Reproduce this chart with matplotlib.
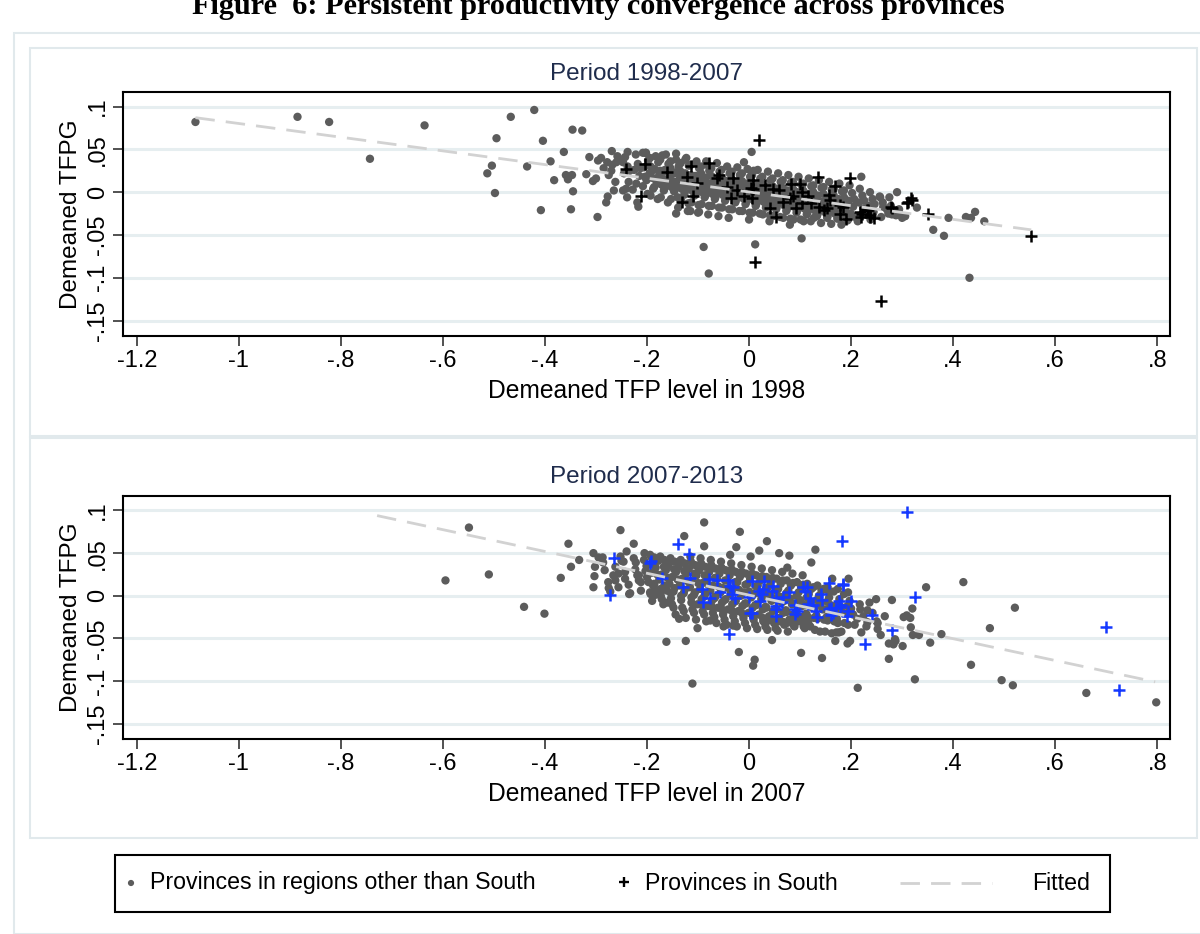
import matplotlib.pyplot as plt
from matplotlib.patches import Rectangle

# ---------------- data ----------------
# Panel 1: period 1998-2007
top_other_x = [
    -1.085, -0.885, -0.823, -0.743, -0.636, -0.513, -0.504, -0.495, -0.498, -0.467,
    -0.435, -0.421, -0.404, -0.408, -0.389, -0.382, -0.363, -0.359, -0.355, -0.347,
    -0.345, -0.349, -0.346, -0.327, -0.313, -0.319, -0.306, -0.300, -0.296, -0.297,
    -0.278, -0.269, -0.260, -0.250, -0.238, -0.280, -0.277, -0.247, -0.217, -0.208,
    -0.202, -0.170, -0.143, -0.143, -0.125, -0.115, -0.104, -0.098, -0.084, -0.089,
    -0.079, -0.010, 0.005, 0.009, 0.012, 0.103, 0.220, 0.290, 0.361, 0.382,
    0.391, 0.425, 0.435, 0.443, 0.461, 0.432, 0.329, 0.305, 0.280, 0.293,
    0.256, 0.259, 0.238, 0.257, 0.288, 0.306, 0.273, 0.263,
    -0.290, -0.285, -0.275, -0.268, -0.262, -0.258, -0.265, -0.270,
    -0.243, -0.238, -0.245, -0.236, -0.241, -0.234, -0.247, -0.239,
    -0.222, -0.218, -0.225, -0.215, -0.221, -0.228, -0.213, -0.219,
    -0.203, -0.198, -0.206, -0.195, -0.201, -0.208, -0.193, -0.199, -0.204,
    -0.183, -0.178, -0.185, -0.176, -0.181, -0.188, -0.174, -0.179, -0.186, -0.172,
    -0.163, -0.158, -0.165, -0.155, -0.161, -0.167, -0.154, -0.159, -0.166, -0.152,
    -0.143, -0.138, -0.145, -0.136, -0.141, -0.147, -0.134, -0.139, -0.146, -0.132, -0.140,
    -0.123, -0.118, -0.125, -0.116, -0.121, -0.127, -0.114, -0.119, -0.126, -0.112, -0.120,
    -0.103, -0.098, -0.105, -0.096, -0.101, -0.107, -0.094, -0.099, -0.106, -0.092, -0.100,
    -0.083, -0.078, -0.085, -0.076, -0.081, -0.087, -0.074, -0.079, -0.086, -0.072, -0.080,
    -0.063, -0.058, -0.065, -0.056, -0.061, -0.067, -0.054, -0.059, -0.066, -0.052, -0.060,
    -0.043, -0.038, -0.045, -0.036, -0.041, -0.047, -0.034, -0.039, -0.046, -0.032, -0.040,
    -0.023, -0.018, -0.025, -0.016, -0.021, -0.027, -0.014, -0.019, -0.026, -0.012,
    -0.003, 0.002, -0.005, 0.004, -0.001, -0.007, 0.006, 0.001, -0.006, 0.008, 0.000,
    0.017, 0.022, 0.015, 0.024, 0.019, 0.013, 0.026, 0.021, 0.014, 0.028,
    0.037, 0.042, 0.035, 0.044, 0.039, 0.033, 0.046, 0.041, 0.034, 0.048, 0.040,
    0.057, 0.062, 0.055, 0.064, 0.059, 0.053, 0.066, 0.061, 0.054, 0.068,
    0.077, 0.082, 0.075, 0.084, 0.079, 0.073, 0.086, 0.081, 0.074, 0.088, 0.080,
    0.097, 0.102, 0.095, 0.104, 0.099, 0.093, 0.106, 0.101, 0.094, 0.108,
    0.117, 0.122, 0.115, 0.124, 0.119, 0.113, 0.126, 0.121, 0.114, 0.128,
    0.137, 0.142, 0.135, 0.144, 0.139, 0.133, 0.146, 0.141, 0.134, 0.148,
    0.157, 0.162, 0.155, 0.164, 0.159, 0.153, 0.166, 0.161, 0.154, 0.168,
    0.177, 0.182, 0.175, 0.184, 0.179, 0.173, 0.186, 0.181, 0.188,
    0.197, 0.202, 0.195, 0.204, 0.199, 0.193, 0.206, 0.208,
    0.217, 0.222, 0.215, 0.224, 0.219, 0.226, 0.213,
    0.237, 0.242, 0.235, 0.244, 0.239, 0.246,
    0.262, 0.270, 0.278, 0.285, 0.294, 0.300, 0.275,
]
top_other_y = [
    0.082, 0.088, 0.082, 0.039, 0.078, 0.022, 0.031, 0.063, -0.001, 0.088,
    0.030, 0.096, 0.060, -0.021, 0.036, 0.014, 0.047, 0.020, 0.015, 0.020,
    0.001, -0.020, 0.073, 0.072, 0.041, 0.021, 0.013, 0.016, 0.037, -0.029,
    0.035, 0.048, 0.035, 0.038, 0.047, -0.012, -0.005, 0.002, -0.017, 0.046,
    0.046, 0.043, 0.045, -0.025, 0.038, -0.022, 0.034, -0.023, 0.036, -0.064,
    -0.095, 0.035, 0.047, 0.025, -0.061, -0.054, 0.018, 0.000, -0.044, -0.051,
    -0.030, -0.029, -0.030, -0.023, -0.034, -0.100, -0.018, -0.028, -0.026, -0.024,
    -0.005, -0.029, -0.032, -0.006, -0.027, -0.028, -0.025, -0.017,
    0.040, 0.028, 0.020, 0.032, 0.012, 0.042, 0.002, 0.025,
    0.041, 0.030, 0.022, 0.012, 0.004, 0.025, 0.035, -0.006,
    0.044, 0.033, 0.026, 0.019, 0.010, 0.003, 0.028, -0.012,
    0.046, 0.037, 0.029, 0.022, 0.014, 0.007, 0.030, -0.002, 0.018,
    0.042, 0.035, 0.027, 0.020, 0.012, 0.004, 0.025, -0.008, 0.016, 0.009,
    0.044, 0.033, 0.026, 0.019, 0.011, 0.002, 0.028, -0.012, 0.015, 0.006,
    0.038, 0.030, 0.023, 0.016, 0.008, 0.001, 0.024, -0.018, 0.012, 0.004, -0.006,
    0.040, 0.031, 0.022, 0.015, 0.007, -0.003, 0.020, -0.013, 0.012, 0.002, -0.022,
    0.036, 0.028, 0.019, 0.013, 0.005, -0.004, 0.022, -0.015, 0.010, 0.000, -0.024,
    0.032, 0.025, 0.017, 0.010, 0.002, -0.006, 0.019, -0.016, 0.008, -0.002, -0.026,
    0.034, 0.024, 0.015, 0.009, 0.001, -0.008, 0.017, -0.018, 0.006, -0.003, -0.028,
    0.030, 0.022, 0.013, 0.007, -0.001, -0.010, 0.015, -0.020, 0.004, -0.005, -0.030,
    0.029, 0.020, 0.012, 0.005, -0.003, -0.012, 0.013, -0.022, 0.002, -0.007,
    0.027, 0.018, 0.010, 0.003, -0.005, -0.014, 0.011, -0.024, 0.000, -0.009, -0.032,
    0.026, 0.016, 0.008, 0.001, -0.007, -0.016, 0.009, -0.025, -0.002, -0.011,
    0.024, 0.014, 0.006, -0.001, -0.009, -0.018, 0.007, -0.027, -0.004, -0.013, -0.034,
    0.022, 0.012, 0.004, -0.003, -0.011, -0.020, 0.005, -0.029, -0.006, -0.015,
    0.020, 0.011, 0.002, -0.005, -0.013, -0.022, 0.004, -0.031, -0.008, -0.017, -0.038,
    0.018, 0.009, 0.000, -0.007, -0.015, -0.024, 0.002, -0.032, -0.010, -0.019,
    0.016, 0.007, -0.002, -0.009, -0.017, -0.026, 0.000, -0.034, -0.012, -0.021,
    0.014, 0.005, -0.004, -0.011, -0.019, -0.028, -0.002, -0.036, -0.014, -0.023,
    0.012, 0.003, -0.006, -0.013, -0.021, -0.030, -0.004, -0.037, -0.016, -0.025,
    0.010, 0.001, -0.008, -0.015, -0.023, -0.031, -0.006, -0.038, -0.027,
    0.008, -0.001, -0.010, -0.017, -0.025, -0.033, -0.008, -0.029,
    0.004, -0.004, -0.012, -0.019, -0.027, -0.010, -0.034,
    0.000, -0.008, -0.016, -0.023, -0.030, -0.014,
    -0.012, -0.020, -0.016, -0.024, -0.020, -0.030, -0.006,
]
# extra points filling the dense core of the 1998-2007 cloud
top_core_x = [
    -0.194, -0.187, -0.191, -0.186, -0.193,
    -0.174, -0.167, -0.171, -0.166, -0.173,
    -0.154, -0.147, -0.151, -0.146, -0.153,
    -0.134, -0.127, -0.131, -0.126, -0.133,
    -0.114, -0.107, -0.111, -0.106, -0.113,
    -0.094, -0.087, -0.091, -0.086, -0.093,
    -0.074, -0.067, -0.071, -0.066, -0.073,
    -0.054, -0.047, -0.051, -0.046, -0.053,
    -0.034, -0.027, -0.031, -0.026, -0.033,
    -0.014, -0.007, -0.011, -0.006, -0.013,
    0.006, 0.013, 0.009, 0.014, 0.007,
    0.026, 0.033, 0.029, 0.034, 0.027,
    0.046, 0.053, 0.049, 0.054, 0.047,
    0.066, 0.073, 0.069, 0.074, 0.067,
    0.086, 0.093, 0.089, 0.094, 0.087,
    0.106, 0.113, 0.109, 0.114, 0.107,
    0.126, 0.133, 0.129, 0.134, 0.127,
    0.146, 0.153, 0.149, 0.154,
    0.166, 0.173, 0.169, 0.174,
    0.186, 0.193, 0.189, 0.194,
]
top_core_y = [
    0.040, 0.026, 0.017, 0.006, -0.004,
    0.038, 0.024, 0.015, 0.004, -0.006,
    0.036, 0.022, 0.013, 0.002, -0.008,
    0.034, 0.020, 0.010, 0.000, -0.010,
    0.032, 0.018, 0.009, -0.002, -0.012,
    0.030, 0.016, 0.007, -0.004, -0.014,
    0.028, 0.014, 0.005, -0.006, -0.016,
    0.026, 0.012, 0.003, -0.008, -0.018,
    0.024, 0.010, 0.001, -0.010, -0.020,
    0.022, 0.008, -0.001, -0.012, -0.022,
    0.020, 0.006, -0.003, -0.014, -0.024,
    0.018, 0.004, -0.005, -0.016, -0.026,
    0.016, 0.002, -0.007, -0.018, -0.028,
    0.014, 0.000, -0.009, -0.020, -0.030,
    0.012, -0.002, -0.011, -0.022, -0.032,
    0.010, -0.004, -0.013, -0.024, -0.034,
    0.008, -0.006, -0.015, -0.026, -0.030,
    0.006, -0.008, -0.017, -0.028,
    0.004, -0.010, -0.019, -0.030,
    0.002, -0.012, -0.021, -0.032,
]
top_south_x = [
    -0.241, -0.203, -0.212, -0.161, -0.131, -0.114, -0.122, -0.110, -0.103, -0.078,
    -0.063, -0.059, -0.031, -0.043, -0.036, -0.024, -0.010, 0.007, 0.003, 0.008,
    0.005, 0.020, 0.012, 0.032, 0.046, 0.058, 0.041, 0.053, 0.067, 0.080,
    0.082, 0.100, 0.087, 0.103, 0.103, 0.092, 0.116, 0.121, 0.135, 0.138,
    0.146, 0.157, 0.159, 0.152, 0.169, 0.178, 0.185, 0.190, 0.178, 0.198,
    0.218, 0.231, 0.219, 0.237, 0.244, 0.280, 0.319, 0.309, 0.350, 0.552,
    0.259, 0.312, 0.317, 0.279, 0.238, 0.221, 0.234,
]
top_south_y = [
    0.027, 0.033, -0.004, 0.024, -0.011, 0.030, 0.018, -0.005, 0.011, 0.034,
    0.016, 0.020, 0.017, 0.006, -0.007, 0.002, -0.004, 0.014, 0.005, 0.004,
    -0.007, 0.061, -0.081, 0.008, 0.004, 0.002, -0.019, -0.029, -0.011, -0.007,
    0.010, 0.009, -0.004, 0.000, -0.013, -0.019, -0.004, -0.013, 0.018, -0.017,
    -0.021, -0.003, -0.009, -0.019, 0.007, -0.015, -0.017, -0.031, -0.025, 0.017,
    -0.023, -0.021, -0.029, -0.027, -0.030, -0.019, -0.009, -0.013, -0.025, -0.051,
    -0.127, -0.012, -0.007, -0.017, -0.029, -0.025, -0.021,
]
top_fit_x = [-1.085, 0.553]
top_fit_y = [0.087, -0.044]

# Panel 2: period 2007-2013
bot_other_x = [
    -0.549, -0.595, -0.510, -0.441, -0.401, -0.369, -0.354, -0.349, -0.333, -0.305,
    -0.295, -0.286, -0.302, -0.303, -0.305, -0.275, -0.262, -0.256, -0.250, -0.243,
    -0.235, -0.252, -0.226, -0.222, -0.216, -0.205, -0.201, -0.212, -0.191, -0.186,
    -0.182, -0.184, -0.178, -0.163, -0.161, -0.160, -0.162, -0.124, -0.111, -0.127,
    -0.088, -0.088, -0.018, -0.025, 0.035, 0.020, -0.020, 0.011, 0.008, 0.045,
    -0.101, -0.076, -0.137, -0.050, -0.031,
    0.059, 0.079, 0.130, 0.122, 0.075, 0.195, 0.163, 0.155, 0.249, 0.280,
    0.347, 0.420, 0.521, 0.472, 0.320, 0.303, 0.309, 0.316, 0.377, 0.355,
    0.333, 0.321, 0.317, 0.301, 0.286, 0.274, 0.283, 0.287, 0.274, 0.266,
    0.252, 0.252, 0.232, 0.232, 0.218, 0.212, 0.220, 0.198, 0.193, 0.169,
    0.181, 0.176, 0.171, 0.139, 0.143, 0.102, 0.213, 0.325, 0.435, 0.495,
    0.517, 0.661, 0.798, 0.120, 0.113, 0.106, 0.100, 0.090, 0.074, 0.067,
    0.058, 0.048, 0.035, 0.028,
    -0.283, -0.276, -0.287, -0.272,
    -0.262, -0.256, -0.266, -0.252,
    -0.243, -0.236, -0.246, -0.233, -0.240,
    -0.223, -0.216, -0.226, -0.212, -0.219,
    -0.203, -0.197, -0.206, -0.194, -0.200, -0.190,
    -0.183, -0.176, -0.186, -0.173, -0.180, -0.171, -0.188,
    -0.163, -0.156, -0.166, -0.153, -0.160, -0.151, -0.168, -0.158,
    -0.143, -0.136, -0.146, -0.133, -0.140, -0.131, -0.148, -0.138, -0.144,
    -0.123, -0.116, -0.126, -0.113, -0.120, -0.111, -0.128, -0.118, -0.124, -0.115,
    -0.103, -0.096, -0.106, -0.093, -0.100, -0.091, -0.108, -0.098, -0.104, -0.095, -0.101,
    -0.083, -0.076, -0.086, -0.073, -0.080, -0.071, -0.088, -0.078, -0.084, -0.075, -0.081,
    -0.063, -0.056, -0.066, -0.053, -0.060, -0.051, -0.068, -0.058, -0.064, -0.055, -0.061,
    -0.043, -0.036, -0.046, -0.033, -0.040, -0.031, -0.048, -0.038, -0.044, -0.035, -0.041, -0.037,
    -0.023, -0.016, -0.026, -0.013, -0.020, -0.011, -0.028, -0.018, -0.024, -0.015, -0.021,
    -0.003, 0.004, -0.006, 0.007, 0.000, 0.009, -0.008, 0.002, -0.004, 0.005, -0.001, 0.003,
    0.017, 0.024, 0.014, 0.027, 0.020, 0.029, 0.012, 0.022, 0.016, 0.025, 0.019,
    0.037, 0.044, 0.034, 0.047, 0.040, 0.049, 0.032, 0.042, 0.036, 0.045, 0.039,
    0.057, 0.064, 0.054, 0.067, 0.060, 0.069, 0.052, 0.062, 0.056, 0.065, 0.059,
    0.077, 0.084, 0.074, 0.087, 0.080, 0.089, 0.072, 0.082, 0.076, 0.085, 0.079,
    0.097, 0.104, 0.094, 0.107, 0.100, 0.109, 0.092, 0.102, 0.096, 0.105,
    0.117, 0.124, 0.114, 0.127, 0.120, 0.129, 0.112, 0.122, 0.116,
    0.137, 0.144, 0.134, 0.147, 0.140, 0.149, 0.132, 0.142,
    0.157, 0.164, 0.154, 0.167, 0.160, 0.152, 0.162,
    0.177, 0.184, 0.174, 0.187, 0.180, 0.172,
    0.197, 0.204, 0.194, 0.207, 0.200,
    0.217, 0.224, 0.230, 0.242, 0.250, 0.258, 0.236,
]
bot_other_y = [
    0.080, 0.018, 0.025, -0.013, -0.021, 0.021, 0.061, 0.034, 0.042, 0.050,
    0.045, 0.039, 0.034, 0.023, 0.010, 0.009, 0.018, 0.026, 0.041, 0.020,
    0.002, 0.077, 0.061, 0.039, 0.024, 0.050, 0.035, 0.016, 0.045, 0.013,
    0.006, 0.001, 0.041, 0.036, 0.006, -0.008, -0.054, -0.053, -0.103, 0.070,
    0.086, 0.058, 0.075, 0.057, 0.064, 0.053, -0.066, -0.075, -0.082, -0.052,
    -0.038, -0.029, -0.027, -0.036, -0.035,
    0.050, 0.047, 0.054, 0.039, 0.033, 0.020, 0.020, 0.006, -0.004, -0.005,
    0.010, 0.016, -0.014, -0.038, -0.015, -0.025, -0.023, -0.026, -0.045, -0.055,
    -0.046, -0.046, -0.037, -0.059, -0.051, -0.056, -0.057, -0.053, -0.074, -0.024,
    -0.032, -0.039, -0.031, -0.017, -0.016, -0.027, -0.043, -0.053, -0.056, -0.053,
    -0.042, -0.043, -0.043, -0.042, -0.073, -0.067, -0.108, -0.098, -0.081, -0.099,
    -0.105, -0.114, -0.125, -0.036, -0.030, -0.032, -0.026, -0.030, -0.032, -0.031,
    -0.030, -0.028, -0.030, -0.030,
    0.030, 0.016, 0.045, 0.005,
    0.034, 0.010, 0.024, 0.046,
    0.028, 0.013, 0.040, 0.003, 0.052,
    0.031, 0.018, 0.044, 0.006, 0.024,
    0.029, 0.016, 0.042, 0.004, 0.022, -0.006,
    0.033, 0.019, 0.045, 0.008, 0.025, -0.004, 0.012,
    0.030, 0.014, 0.042, 0.003, 0.021, -0.010, 0.008, 0.036,
    0.028, 0.012, 0.040, 0.000, 0.019, -0.014, 0.005, 0.034, -0.022,
    0.026, 0.010, 0.038, -0.002, 0.017, -0.016, 0.003, 0.032, -0.026, 0.046,
    0.024, 0.008, 0.036, -0.004, 0.015, -0.018, 0.001, 0.030, -0.028, 0.044, -0.010,
    0.022, 0.006, 0.034, -0.006, 0.013, -0.020, -0.001, 0.028, -0.030, 0.042, -0.012,
    0.020, 0.004, 0.032, -0.008, 0.011, -0.022, -0.003, 0.026, -0.032, 0.040, -0.014,
    0.018, 0.002, 0.030, -0.010, 0.009, -0.024, -0.005, 0.024, -0.034, 0.038, -0.016, 0.048,
    0.016, 0.000, 0.028, -0.012, 0.007, -0.026, -0.007, 0.022, -0.036, 0.036, -0.018,
    0.014, -0.002, 0.026, -0.014, 0.005, -0.028, -0.009, 0.020, -0.038, 0.034, -0.020, 0.046,
    0.012, -0.004, 0.024, -0.016, 0.003, -0.030, -0.011, 0.018, -0.039, 0.032, -0.022,
    0.010, -0.006, 0.022, -0.018, 0.001, -0.032, -0.013, 0.016, -0.040, 0.030, -0.024,
    0.008, -0.008, 0.020, -0.020, -0.001, -0.034, -0.015, 0.014, -0.041, 0.028, -0.026,
    0.006, -0.010, 0.018, -0.022, -0.003, -0.036, -0.017, 0.012, -0.042, 0.026, -0.028,
    0.004, -0.012, 0.016, -0.024, -0.005, -0.038, -0.019, 0.010, -0.030, 0.024,
    0.002, -0.014, 0.014, -0.026, -0.007, -0.040, -0.021, 0.008, -0.032,
    0.000, -0.016, 0.012, -0.028, -0.009, -0.042, -0.023, 0.006,
    -0.002, -0.018, 0.010, -0.030, -0.011, -0.025, -0.044,
    -0.004, -0.020, 0.008, -0.032, -0.013, -0.027,
    -0.006, -0.022, 0.004, -0.034, -0.015,
    -0.010, -0.024, -0.036, -0.020, -0.030, -0.046, -0.008,
]
# extra points filling the dense core of the 2007-2013 cloud
bot_core_x = [
    -0.194, -0.187, -0.191, -0.186, -0.193,
    -0.174, -0.167, -0.171, -0.166, -0.173, -0.168,
    -0.154, -0.147, -0.151, -0.146, -0.153, -0.148,
    -0.134, -0.127, -0.131, -0.126, -0.133, -0.128,
    -0.114, -0.107, -0.111, -0.106, -0.113, -0.108,
    -0.094, -0.087, -0.091, -0.086, -0.093, -0.088,
    -0.074, -0.067, -0.071, -0.066, -0.073, -0.068,
    -0.054, -0.047, -0.051, -0.046, -0.053, -0.048,
    -0.034, -0.027, -0.031, -0.026, -0.033, -0.028,
    -0.014, -0.007, -0.011, -0.006, -0.013, -0.008,
    0.006, 0.013, 0.009, 0.014, 0.007, 0.012,
    0.026, 0.033, 0.029, 0.034, 0.027, 0.032,
    0.046, 0.053, 0.049, 0.054, 0.047, 0.052,
    0.066, 0.073, 0.069, 0.074, 0.067,
    0.086, 0.093, 0.089, 0.094, 0.087,
    0.106, 0.113, 0.109, 0.114, 0.107,
    0.126, 0.133, 0.129, 0.134,
    0.146, 0.153, 0.149, 0.154,
    0.166, 0.173, 0.169, 0.174,
    0.186, 0.193, 0.189, 0.194,
]
bot_core_y = [
    0.048, 0.036, 0.027, 0.014, 0.002,
    0.046, 0.034, 0.025, 0.012, 0.000, -0.010,
    0.044, 0.031, 0.022, 0.009, -0.003, -0.014,
    0.042, 0.029, 0.020, 0.007, -0.005, -0.018,
    0.040, 0.026, 0.017, 0.004, -0.008, -0.020,
    0.038, 0.024, 0.015, 0.002, -0.010, -0.022,
    0.036, 0.021, 0.012, -0.001, -0.013, -0.025,
    0.033, 0.018, 0.009, -0.004, -0.016, -0.028,
    0.031, 0.016, 0.007, -0.006, -0.018, -0.030,
    0.028, 0.013, 0.004, -0.009, -0.021, -0.032,
    0.026, 0.011, 0.002, -0.011, -0.023, -0.034,
    0.023, 0.008, -0.001, -0.014, -0.026, -0.036,
    0.021, 0.006, -0.003, -0.016, -0.028, -0.038,
    0.018, 0.003, -0.006, -0.019, -0.031,
    0.015, 0.000, -0.009, -0.022, -0.034,
    0.013, -0.002, -0.011, -0.024, -0.036,
    0.010, -0.005, -0.014, -0.027,
    0.008, -0.007, -0.016, -0.029,
    0.005, -0.010, -0.019, -0.032,
    0.002, -0.012, -0.021, -0.034,
]
bot_south_x = [
    -0.273, -0.265, -0.193, -0.195, -0.139, -0.117, -0.116, -0.130, -0.092, -0.090,
    -0.076, -0.079, -0.063, -0.041, -0.040, -0.031, -0.027, -0.001, 0.001, 0.006,
    0.005, 0.022, 0.028, 0.044, 0.053, 0.052, -0.057, -0.171,
    0.309, 0.182, 0.156, 0.184, 0.326, 0.700, 0.725, 0.228, 0.280, 0.241,
    0.199, 0.181, 0.176, 0.161, 0.161, 0.171, 0.131, 0.141, 0.120, 0.110,
    0.105, 0.113, 0.090, 0.090, 0.091, 0.079, 0.052, 0.066, 0.053, 0.047,
    0.030, 0.025, 0.193, -0.033, -0.037, 0.019, 0.065, 0.094, 0.116, 0.125,
    0.133, 0.143, 0.156, 0.165, 0.178, 0.184, 0.192,
]
bot_south_y = [
    0.001, 0.044, 0.041, 0.038, 0.061, 0.049, 0.021, 0.010, 0.008, -0.007,
    -0.003, 0.020, 0.019, 0.018, -0.045, 0.010, -0.003, -0.001, -0.020, -0.020,
    0.017, -0.006, 0.008, 0.005, -0.012, -0.024, 0.004, 0.021,
    0.098, 0.064, 0.015, 0.013, -0.001, -0.037, -0.110, -0.056, -0.040, -0.022,
    -0.006, -0.011, -0.006, -0.014, -0.023, -0.014, -0.018, 0.002, -0.003, 0.006,
    0.010, 0.010, -0.011, -0.021, -0.016, 0.004, -0.016, -0.001, -0.003, 0.011,
    0.017, 0.002, -0.018, 0.002, 0.011, 0.005, -0.007, -0.018, -0.010, -0.011,
    -0.025, -0.005, -0.015, -0.020, -0.013, 0.014, -0.024,
]
bot_fit_x = [-0.729, 0.796]
bot_fit_y = [0.094, -0.101]

x_ticks = [-1.2, -1.0, -0.8, -0.6, -0.4, -0.2, 0.0, 0.2, 0.4, 0.6, 0.8]
x_tick_labels = ['-1.2', '-1', '-.8', '-.6', '-.4', '-.2', '0', '.2', '.4', '.6', '.8']
y_ticks = [-0.15, -0.1, -0.05, 0.0, 0.05, 0.1]
y_tick_labels = ['-.15', '-.1', '-.05', '0', '.05', '.1']

# ---------------- styling ----------------
plt.rcParams['font.family'] = ['Liberation Sans', 'DejaVu Sans']
W, H = 1200, 934
gray = '#5c5c5c'
frame_col = '#e1e9ec'
grid_col = '#e6eef0'
title_col = '#1f2c4c'
fit_col = '#d2d2d2'

fig = plt.figure(figsize=(W / 100, H / 100), dpi=100)


def rect(left, top, right, bottom):
    return [left / W, 1 - bottom / H, (right - left) / W, (bottom - top) / H]


# light outer frames, Stata style
fig.add_artist(Rectangle((14 / W, 0), 1.2, 1 - 33 / H, transform=fig.transFigure,
                         fill=False, ec=frame_col, lw=1.5))
fig.add_artist(Rectangle((30 / W, 1 - 436 / H), (1197 - 30) / W, (436 - 48) / H,
                         transform=fig.transFigure, fill=False, ec=frame_col, lw=1.5))
fig.add_artist(Rectangle((30 / W, 1 - 838 / H), (1197 - 30) / W, (838 - 438) / H,
                         transform=fig.transFigure, fill=False, ec=frame_col, lw=1.5))

# figure caption, cut off by the top edge as in the source
fig.text(598 / W, 1 - 14 / H, 'Figure  6: Persistent productivity convergence across provinces',
         ha='center', va='baseline', fontsize=21.8, fontweight='bold',
         family=['Liberation Serif', 'DejaVu Serif'])

panels = [
    (rect(123, 92, 1170, 336), top_other_x + top_core_x, top_other_y + top_core_y,
     top_south_x, top_south_y, top_fit_x, top_fit_y, 'black',
     'Period 1998-2007', 'Demeaned TFP level in 1998'),
    (rect(123, 496, 1170, 739), bot_other_x + bot_core_x, bot_other_y + bot_core_y,
     bot_south_x, bot_south_y, bot_fit_x, bot_fit_y, '#1438ff',
     'Period 2007-2013', 'Demeaned TFP level in 2007'),
]

for pos, ox, oy, sx, sy, fxs, fys, scol, ttl, xlab in panels:
    ax = fig.add_axes(pos)
    ax.scatter(ox, oy, s=36, color=gray, edgecolors='none', zorder=3)
    ax.scatter(sx, sy, s=80, marker='+', color=scol, linewidths=1.8, zorder=4)
    ax.plot(fxs, fys, color=fit_col, lw=2, dashes=(7, 4), zorder=5)
    ax.set_xlim(-1.227, 0.825)
    ax.set_ylim(-0.168, 0.117)
    ax.set_xticks(x_ticks)
    ax.set_xticklabels(x_tick_labels, fontsize=17)
    ax.set_yticks(y_ticks)
    ax.set_yticklabels(y_tick_labels, fontsize=17, rotation=90, va='center')
    ax.tick_params(direction='out', length=7, width=1.2, color='#333333', pad=3)
    ax.grid(axis='y', color=grid_col, lw=2.2, zorder=0)
    ax.set_axisbelow(True)
    for sp in ax.spines.values():
        sp.set_linewidth(1.5)
    ax.set_title(ttl, fontsize=17.5, color=title_col, pad=9)
    ax.set_xlabel(xlab, fontsize=17.7, labelpad=5)
    ax.set_ylabel('Demeaned TFPG', fontsize=17.5, labelpad=4)

# legend drawn by hand in pixel space
lax = fig.add_axes([0, 0, 1, 1], zorder=10)
lax.set_xlim(0, W)
lax.set_ylim(H, 0)
lax.axis('off')
lax.add_patch(Rectangle((115, 855), 995, 57, fill=False, ec='black', lw=1.5))
lax.scatter([131], [883], s=20, color=gray, edgecolors='none')
lax.text(150, 883, 'Provinces in regions other than South', fontsize=16.7, va='center')
lax.scatter([624], [882], s=55, marker='+', color='black', linewidths=1.7)
lax.text(645, 883, 'Provinces in South', fontsize=16.7, va='center')
lax.plot([900, 992], [883, 883], color=fit_col, lw=2, dashes=(7, 4))
lax.text(1090, 883, 'Fitted', fontsize=16.7, va='center', ha='right')

fig.savefig('out.png', dpi=100, facecolor='white')
